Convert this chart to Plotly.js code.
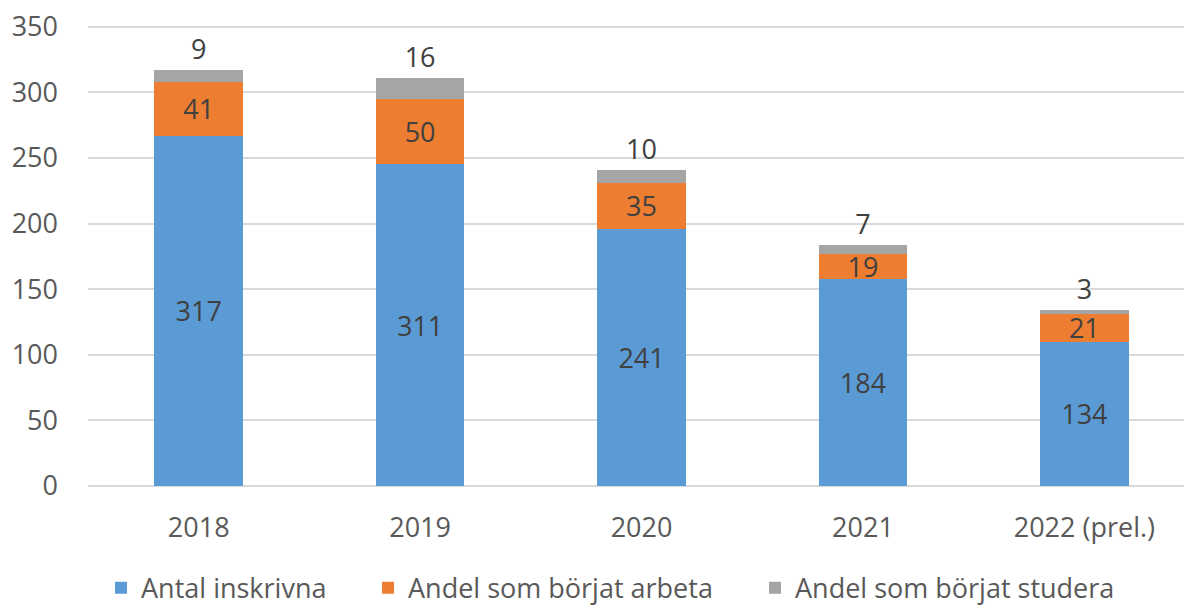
<!DOCTYPE html>
<html>
<head>
<meta charset="utf-8">
<script src="https://cdn.plot.ly/plotly-3.0.1.min.js"></script>
<style>html,body{margin:0;padding:0;background:#fff;}#chart{width:1184px;height:609px;}</style>
</head>
<body>
<div id="chart"></div>
<script>
const years = ["2018", "2019", "2020", "2021", "2022 (prel.)"];
const inskrivna = [317, 311, 241, 184, 134];
const arbeta = [41, 50, 35, 19, 21];
const studera = [9, 16, 10, 7, 3];
const seriesNames = ["Antal inskrivna", "Andel som börjat arbeta", "Andel som börjat studera"];
const yTicks = [0, 50, 100, 150, 200, 250, 300, 350];

// The blue segment is the remainder so that the stack top equals the total "Antal inskrivna"
const blueHeights = inskrivna.map((v, i) => v - arbeta[i] - studera[i]);

const font = "'Open Sans', 'Noto Sans', sans-serif";
const labelFont = {family: font, size: 27, color: "#404040"};

const common = {type: "bar", x: years, hoverinfo: "none", textangle: 0,
                constraintext: "none", cliponaxis: false, textfont: labelFont};

const traces = [
  Object.assign({}, common, {name: seriesNames[0], y: blueHeights, legend: "legend",
   text: inskrivna.map(String), textposition: "inside", insidetextanchor: "middle",
   marker: {color: "#5B9BD5", line: {width: 0}}}),
  Object.assign({}, common, {name: seriesNames[1], y: arbeta, legend: "legend2",
   text: arbeta.map(String), textposition: "inside", insidetextanchor: "middle",
   marker: {color: "#ED7D31", line: {width: 0}}}),
  Object.assign({}, common, {name: seriesNames[2], y: studera, legend: "legend3",
   text: studera.map(String), textposition: "outside",
   marker: {color: "#A5A5A5", line: {width: 0}}})
];

function legendAt(x) {
  return {orientation: "h", x: x, xanchor: "left", y: -0.216, yanchor: "middle",
          bgcolor: "rgba(0,0,0,0)", font: {size: 27, color: "#595959", family: font}};
}

const layout = {
  width: 1184, height: 609,
  margin: {l: 88, r: 0, t: 24, b: 121, autoexpand: false},
  barmode: "stack",
  bargap: 0.6,
  paper_bgcolor: "#fff", plot_bgcolor: "#fff",
  font: {family: font, color: "#595959", size: 27},
  xaxis: {type: "category", range: [-0.5, 4.45], tickfont: {size: 27, color: "#595959"}, showgrid: false,
          zeroline: false, showline: false, ticks: "", ticklabelstandoff: 21},
  yaxis: {range: [-1.5, 352], tickvals: yTicks, ticktext: yTicks.map(String),
          gridcolor: "#D9D9D9", gridwidth: 2, zeroline: false, showline: false,
          tickfont: {size: 27, color: "#595959"}, ticks: "", ticklabelstandoff: 29},
  showlegend: true,
  legend: legendAt(0.0119),
  legend2: legendAt(0.2555),
  legend3: legendAt(0.6086)
};

Plotly.newPlot("chart", traces, layout, {displayModeBar: false, staticPlot: true});
</script>
</body>
</html>
